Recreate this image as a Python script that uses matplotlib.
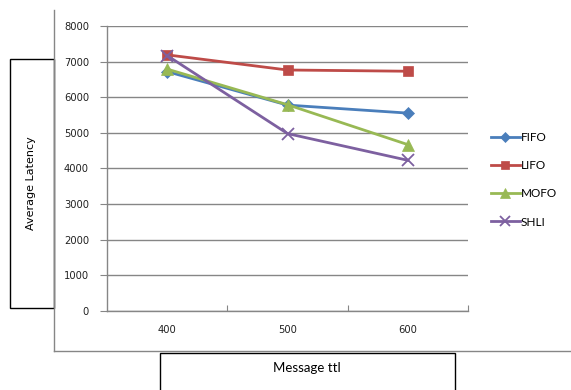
import matplotlib
matplotlib.use("Agg")
import matplotlib.pyplot as plt
from matplotlib.lines import Line2D
from matplotlib.patches import Rectangle

# message ttl categories and average latency per queue policy
ttl = ["400", "500", "600"]
fifo = [6720, 5780, 5555]
lifo = [7190, 6765, 6730]
mofo = [6790, 5790, 4670]
shli = [7170, 4980, 4230]

series = [
    ("FIFO", fifo, "#4A7EBB", "D", 6),
    ("LIFO", lifo, "#BE4B48", "s", 7.5),
    ("MOFO", mofo, "#98B954", "^", 8),
    ("SHLI", shli, "#7D60A0", "x", 8),
]

W, H = 571, 390
fig = plt.figure(figsize=(W / 100, H / 100), dpi=100)

def fx(px):
    return px / W

def fy(py):
    return 1 - py / H

grey = "#868686"

# outer chart frame (left + bottom edges only)
fig.add_artist(Line2D([fx(54), fx(54)], [fy(10), fy(351)], color=grey, lw=1))
fig.add_artist(Line2D([fx(54), fx(571)], [fy(351), fy(351)], color=grey, lw=1))

ax = fig.add_axes([fx(107), fy(311), fx(468) - fx(107), fy(26) - fy(311)])
ax.patch.set_alpha(0)

x = range(1, len(ttl) + 1)
for name, vals, col, mk, ms in series:
    ax.plot(x, vals, color=col, lw=2, marker=mk, ms=ms,
            mew=1.3 if mk == "x" else 0.5, mec=col, label=name)

ax.set_xlim(0.5, 3.5)
ax.set_ylim(0, 8000)
ax.set_yticks(range(0, 8001, 1000))
ax.yaxis.grid(True, color=grey, lw=1)
ax.set_axisbelow(True)

# category boundaries as major ticks, labels on minor ticks at centres
ax.set_xticks([1.5, 2.5, 3.5])
ax.set_xticklabels([])
ax.set_xticks(list(x), minor=True)
ax.set_xticklabels(ttl, minor=True)
ax.tick_params(axis="x", which="major", direction="in", length=4, color=grey)
ax.tick_params(axis="x", which="minor", length=0, pad=10, labelsize=7.2,
               labelcolor="#222222")
ax.tick_params(axis="y", direction="out", length=5, color=grey, labelsize=7.2,
               pad=8, labelcolor="#222222")

for s in ["top", "right"]:
    ax.spines[s].set_visible(False)
for s in ["left", "bottom"]:
    ax.spines[s].set_color(grey)
    ax.spines[s].set_linewidth(1)

ax.legend(loc="center left", bbox_to_anchor=(1.035, 0.46),
          frameon=False, handlelength=2.4, labelspacing=1.45,
          handletextpad=0.1, markerscale=0.85,
          prop={"family": "Lato", "size": 8.5})

# axis title boxes
fig.add_artist(Rectangle((fx(10), fy(308)), fx(54) - fx(10), fy(59) - fy(308),
                         fill=False, ec="black", lw=1))
fig.text(fx(31), fy(183), "Average Latency", rotation=90, ha="center",
         va="center", fontsize=8)

fig.add_artist(Rectangle((fx(160), fy(395)), fx(455) - fx(160), fy(353) - fy(395),
                         fill=False, ec="black", lw=1, clip_on=False))
fig.text(fx(307), fy(368), "Message ttl", ha="center", va="center",
         family="Lato", fontsize=9.5)

fig.savefig("out.png", dpi=100)
